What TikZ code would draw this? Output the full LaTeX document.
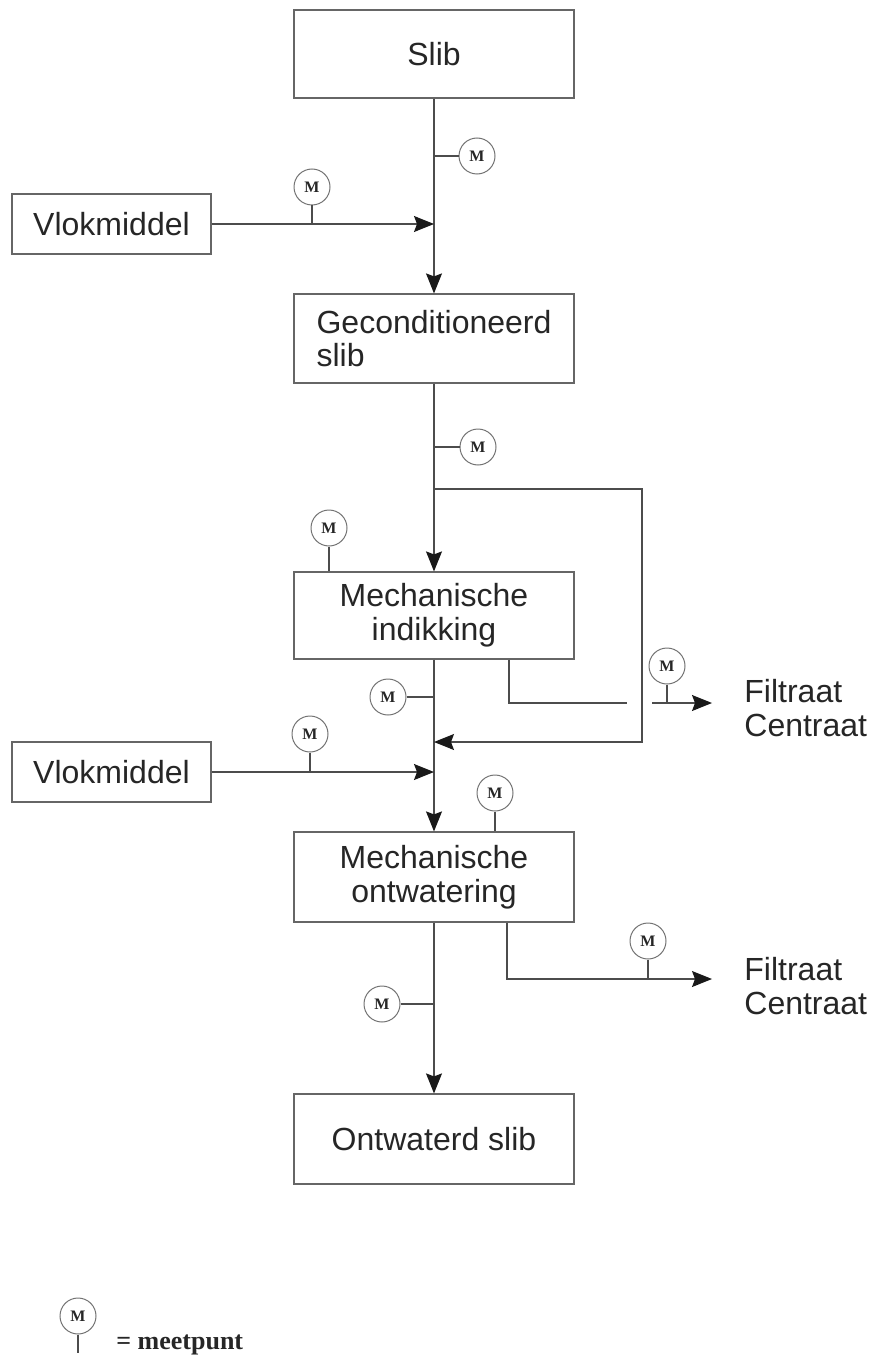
\documentclass[tikz,border=0pt]{standalone}
\usepackage{fontspec}
\setmainfont{Liberation Sans}
\newfontfamily\meetfont{Liberation Serif}
\usetikzlibrary{arrows.meta}
\usetikzlibrary{positioning,calc}

\begin{document}
\begin{tikzpicture}[x=0.5pt,y=-0.5pt]
\tikzset{myFont/.style={font=\fontsize{16}{16.8}\selectfont,text=black!85}}
\tikzset{myBox/.style={draw=black!60,line width=0.6pt,myFont,align=center,minimum width=140pt,minimum height=44pt,inner sep=0pt}}
\tikzset{mySmall/.style={myBox,minimum width=99.5pt,minimum height=30pt}}
\tikzset{myMeter/.style={draw=black!55,circle,line width=0.5pt,minimum size=18pt,inner sep=0pt,text=black!85,font=\meetfont\bfseries\fontsize{8}{8}\selectfont}}
\tikzset{myLine/.style={draw=black!70,line width=0.6pt}}
\tikzset{myArrow/.style={myLine,-{Stealth[length=10pt,width=8pt,inset=1.5pt,black!90]}}}
\tikzset{myOut/.style={myFont,align=left,inner sep=0pt}}

\useasboundingbox (0,0) rectangle (877,1364);

% process boxes
\node[myBox] (slib) at (434,54) {Slib};
\node[mySmall] (vlok1) at (111.5,224) {Vlokmiddel};
\node[myBox,align=left,minimum height=44.5pt] (gecond) at (434,338.5) {Geconditioneerd\\slib};
\node[myBox,minimum height=43.5pt] (indik) at (434,615.5) {Mechanische\\indikking};
\node[mySmall] (vlok2) at (111.5,772) {Vlokmiddel};
\node[myBox,minimum height=45pt] (ontw) at (434,877) {Mechanische\\ontwatering};
\node[myBox,minimum height=45pt] (ontslib) at (434,1139) {Ontwaterd slib};

% main stream
\path[myArrow] (slib) edge (gecond);
\path[myArrow] (vlok1) edge (vlok1 -| slib);
\path[myArrow] (gecond) edge (indik);
\path[myArrow] (indik) edge (ontw);
\path[myArrow] (vlok2) edge (vlok2 -| indik);
\path[myArrow] (ontw) edge (ontslib);

% bypass round the thickener
\coordinate (split) at (434,489);
\coordinate (bypass) at (642,600);
\coordinate (ret) at (434,742);
\draw[myArrow] (split) -| (bypass) |- (ret);

% filtrate / centrate
\coordinate (f1) at (509,703);
\coordinate (gap1a) at (627,703);
\coordinate (gap1b) at (652,703);
\coordinate (f1end) at (712,703);
\draw[myLine] (indik.south -| f1) -- (f1) -- (gap1a);
\draw[myArrow] (gap1b) -- (f1end);
\node[myOut,right=16pt of f1end,yshift=-2.5pt] (filt1) {Filtraat\\Centraat};

\coordinate (f2) at (507,979);
\coordinate (f2end) at (712,979);
\draw[myArrow] (ontw.south -| f2) -- (f2) -- (f2end);
\node[myOut,right=16pt of f2end,yshift=-3.5pt] (filt2) {Filtraat\\Centraat};

% measuring points
\node[myMeter] (m1) at (477,156) {M};
\node[myMeter] (m2) at (312,187) {M};
\node[myMeter] (m3) at (478,447) {M};
\node[myMeter] (m4) at (329,528) {M};
\node[myMeter] (m5) at (388,697) {M};
\node[myMeter] (m6) at (667,666) {M};
\node[myMeter] (m7) at (310,734) {M};
\node[myMeter] (m8) at (495,793) {M};
\node[myMeter] (m9) at (382,1004) {M};
\node[myMeter] (m10) at (648,941) {M};
\draw[myLine] (m1) -- (m1 -| slib);
\draw[myLine] (m2) -- (m2 |- vlok1);
\draw[myLine] (m3) -- (m3 -| gecond);
\draw[myLine] (m4) -- (m4 |- indik.north);
\draw[myLine] (m5) -- (m5 -| indik);
\draw[myLine] (m6) -- (m6 |- f1);
\draw[myLine] (m7) -- (m7 |- vlok2);
\draw[myLine] (m8) -- (m8 |- ontw.north);
\draw[myLine] (m9) -- (m9 -| ontw);
\draw[myLine] (m10) -- (m10 |- f2);

% legend
\node[myMeter] (mleg) at (78,1316) {M};
\coordinate (legstem) at (78,1353);
\draw[myLine] (mleg) -- (legstem);
\node[anchor=west,inner sep=0pt,text=black!85,font=\meetfont\bfseries\fontsize{13}{13}\selectfont] (legtext) at (116,1345) {= meetpunt};

\end{tikzpicture}
\end{document}
